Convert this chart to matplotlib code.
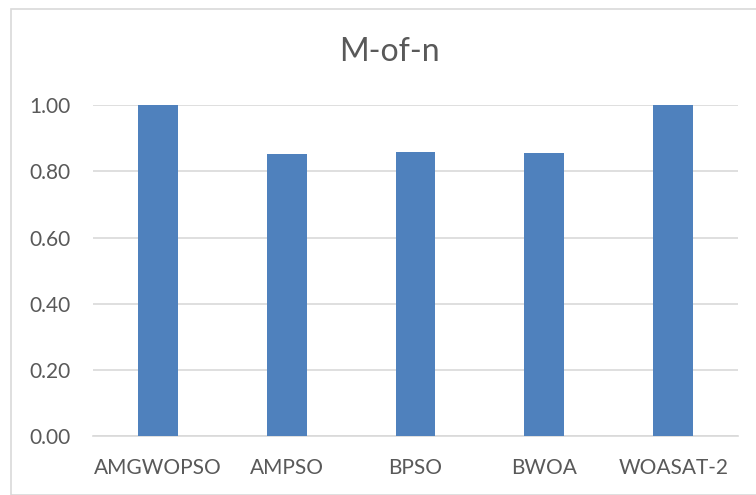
import matplotlib
matplotlib.use("Agg")
import matplotlib.pyplot as plt
from matplotlib.patches import Rectangle

categories = ["AMGWOPSO", "AMPSO", "BPSO", "BWOA", "WOASAT-2"]
values = [1.00, 0.8525, 0.8576, 0.8545, 1.00]
yticks = [0.0, 0.2, 0.4, 0.6, 0.8, 1.0]
title = "M-of-n"

plt.rcParams['font.family'] = ['Lato', 'DejaVu Sans']
txt = "#595959"
grid = "#d9d9d9"

fig = plt.figure(figsize=(7.56, 4.95), dpi=100)
fig.patches.append(Rectangle((11/756, 0), 1, 1 - 9/495, transform=fig.transFigure,
                             fill=False, edgecolor=grid, linewidth=1.2))
ax = fig.add_axes([93.3/756, 1 - 436/495, (737.7 - 93.3)/756, (436 - 105.3)/495])
x = list(range(len(categories)))
ax.bar(x, values, width=0.31, color="#4f81bd", zorder=3)
ax.set_xlim(-0.5, len(categories) - 0.5)
ax.set_ylim(0, 1.0)
ax.set_yticks(yticks)
ax.set_yticklabels([f"{v:.2f}" for v in yticks])
ax.set_xticks(x)
ax.set_xticklabels(categories)
ax.tick_params(axis='both', length=0, labelsize=15, colors=txt)
ax.tick_params(axis='y', pad=16.3)
ax.tick_params(axis='x', pad=16)
ax.grid(axis='y', color=grid, linewidth=1.2, zorder=0)
for s in ["top", "right", "left"]:
    ax.spines[s].set_visible(False)
ax.spines["bottom"].set_color(grid)
ax.spines["bottom"].set_linewidth(1.2)
fig.text(389/756, 1 - 61/495, title, ha='center', va='baseline', fontsize=23, color=txt)
fig.savefig("out.png", dpi=100)
